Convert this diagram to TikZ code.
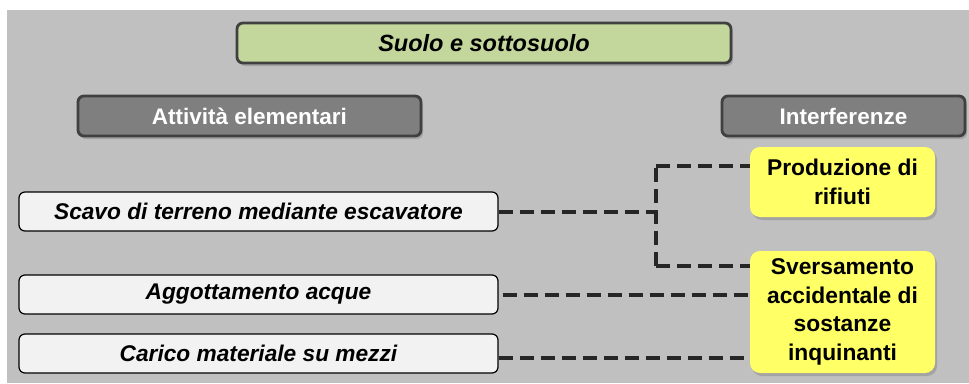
\documentclass[tikz,border=0pt]{standalone}
\usepackage{fontspec}
\setmainfont{Liberation Sans}
\usepackage{tikz}
\usetikzlibrary{shadows, positioning, calc}

\definecolor{bggray}{HTML}{C0C0C0}
\definecolor{titlegreen}{HTML}{C3D69B}
\definecolor{boxedge}{HTML}{404040}
\definecolor{headgray}{HTML}{7F7F7F}
\definecolor{actfill}{HTML}{F2F2F2}
\definecolor{interyellow}{HTML}{FFFF66}
\definecolor{linkgray}{HTML}{262626}

\begin{document}
\begin{tikzpicture}[
    x=1pt, y=-1pt,
    shade/.style={drop shadow={opacity=0.45, shadow xshift=2pt, shadow yshift=-3pt}},
    title/.style={draw=boxedge, line width=2.8pt, rounded corners=6pt, fill=titlegreen, shade,
        minimum width=494pt, minimum height=40pt, font=\fontsize{23.5}{27}\selectfont\bfseries\itshape},
    header/.style={draw=boxedge, line width=2.8pt, rounded corners=6pt, fill=headgray, shade,
        minimum height=40pt, text=white, font=\fontsize{22.5}{26}\selectfont\bfseries},
    activity/.style={draw=black, line width=1.2pt, rounded corners=6pt, fill=actfill,
        minimum width=479pt, minimum height=39pt, font=\fontsize{22.7}{26}\selectfont\bfseries\itshape},
    effect/.style={rounded corners=10pt, fill=interyellow, shade, align=center, inner sep=0pt,
        minimum width=185pt, font=\fontsize{22.8}{28.5}\selectfont\bfseries},
    link/.style={draw=linkgray, line width=4pt, dash pattern=on 14pt off 7pt}
]
    \useasboundingbox (0,0) rectangle (969,383);
    \fill[bggray] (7,10) rectangle (969,383);

    % --- Title and column headers ---
    \node[title] (topic) at (484,43) {Suolo e sottosuolo};
    \node[header, minimum width=343pt] (hact) at (249.5,116) {Attività elementari};
    \node[header, minimum width=243pt] (hint) at (843.5,116) {Interferenze};

    % --- Elementary activities ---
    \node[activity] (act1) at (258.5,211.5) {Scavo di terreno mediante escavatore};
    \node[activity] (act2) at (258.5,294.5) {Aggottamento acque};
    \node[activity] (act3) at (258.5,353.5) {Carico materiale su mezzi};

    % --- Interferences ---
    \node[effect, minimum height=70pt] (waste) at (842.5,182) {Produzione di\\rifiuti};
    \node[effect, minimum height=122pt] (spill) at (842.5,312) {Sversamento\\accidentale di\\sostanze\\inquinanti};

    % Dashed links
    \coordinate (fork) at (656,211.5);
    \coordinate (forkA) at (656,166);
    \coordinate (forkB) at (656,266);
    \draw[link] (act1.east) -- (fork);
    \draw[link] (forkB) -- (forkA);
    \draw[link] (forkA) -- (forkA -| waste.west);
    \draw[link] (forkB) -- (forkB -| spill.west);
    \draw[link] ([xshift=4pt]act2.east) -- (act2.east -| spill.west);
    \draw[link] ([yshift=-4pt]act3.east) -- ([yshift=-4pt]act3.east -| spill.west);

\end{tikzpicture}
\end{document}
